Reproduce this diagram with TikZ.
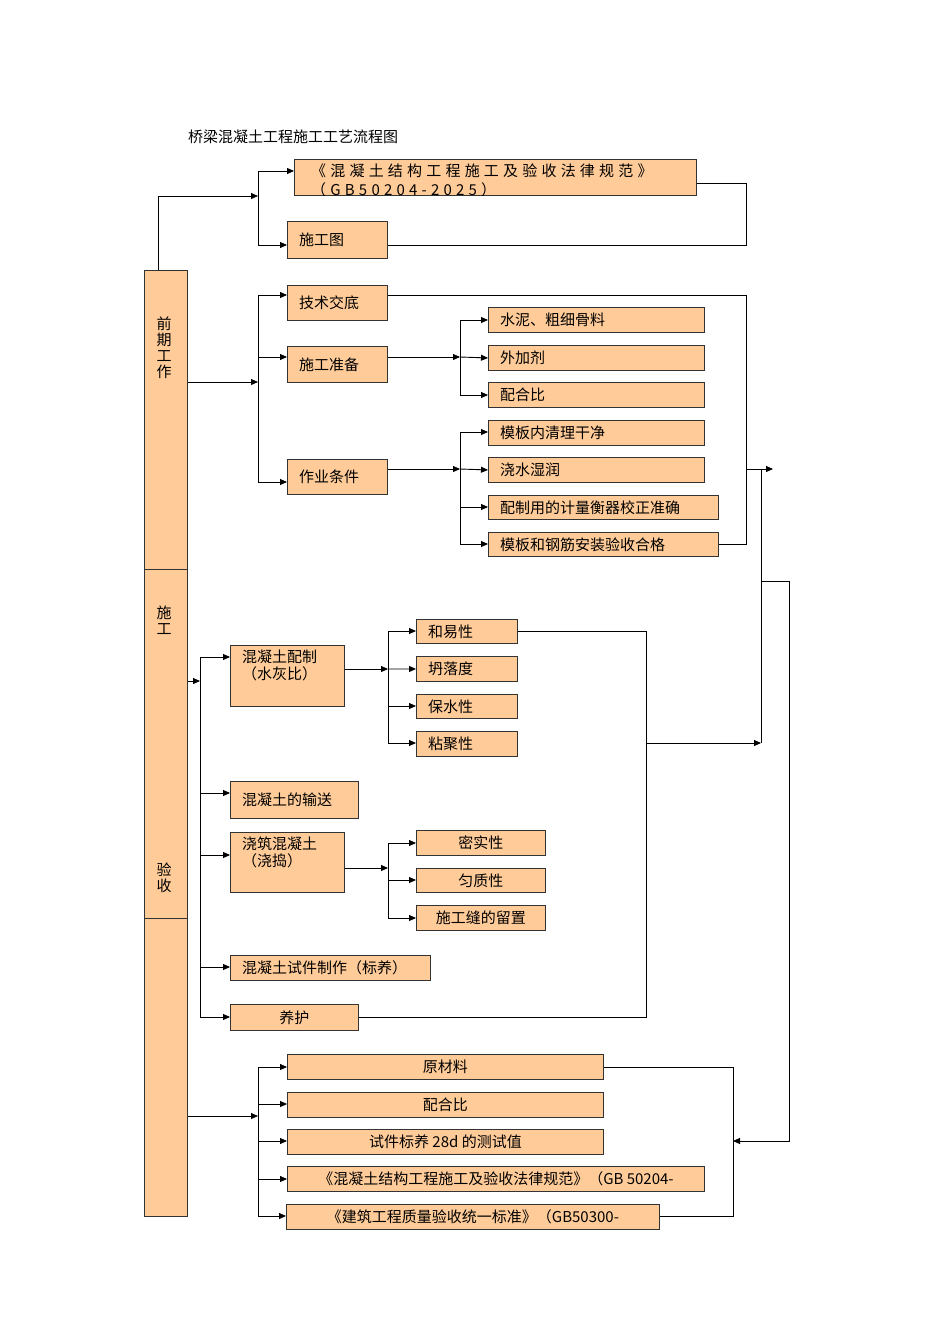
\documentclass[tikz,border=0pt]{standalone}
\usepackage{fontspec}
\usetikzlibrary{arrows.meta, positioning}
\newfontfamily\cjk{Noto Sans CJK SC}
\newfontfamily\cjkwide[LetterSpace=28]{Noto Sans CJK SC}
\definecolor{boxfill}{RGB}{255,204,153}
\tikzset{
  box/.style={draw=black!80, fill=boxfill, line width=0.9pt, inner sep=0pt, anchor=north west},
  txt/.style={font=\cjk\fontsize{15}{17}\selectfont, inner sep=0pt},
  arr/.style={line width=0.9pt, -{Triangle[length=7pt,width=6pt]}},
  ln/.style={line width=0.9pt}
}
% box: name, x1, y1, x2, y2
\newcommand{\flowbox}[5]{\node[box, minimum width={(#4-#2)*1pt}, minimum height={(#5-#3)*1pt}] (#1) at (#2,#3) {};}
\newcommand{\lbox}[6]{\flowbox{#1}{#2}{#3}{#4}{#5}\node[txt, anchor=west] (#1t) at ([xshift=12pt]#1.west) {#6};}
\newcommand{\cbox}[6]{\flowbox{#1}{#2}{#3}{#4}{#5}\node[txt] (#1t) at (#1.center) {#6};}
\begin{document}
\begin{tikzpicture}[x=1pt, y=-1pt]
  \useasboundingbox (0,0) rectangle (950,1344);
  \node[txt, anchor=west] (title) at (188,137) {桥梁混凝土工程施工工艺流程图};

  % left column
  \flowbox{colA}{144}{270}{187}{569}
  \flowbox{colB}{144}{569}{187}{918}
  \flowbox{colC}{144}{918}{187}{1216}
  \node[txt, align=center, font=\cjk\fontsize{15}{16}\selectfont] (qq) at (164,348) {前\\期\\工\\作};
  \node[txt, align=center, font=\cjk\fontsize{15}{16}\selectfont] (sg) at (164,620) {施\\工};
  \node[txt, align=center, font=\cjk\fontsize{15}{16}\selectfont] (ys) at (164,878) {验\\收};

  % preliminary work
  \flowbox{gf}{294}{159}{696}{195}
  \begin{scope}
    \clip (gf.north west) rectangle (gf.south east);
    \node[anchor=north west, align=left, inner sep=0pt, font=\cjkwide\fontsize{15}{19}\selectfont] (gft) at (311,164) {《混凝土结构工程施工及验收法律规范》\\（GB50204-2025）};
  \end{scope}
  \lbox{sgt}{287}{221}{387}{258}{施工图}
  \lbox{jsjd}{287}{285}{387}{320}{技术交底}
  \lbox{sgzb}{287}{346}{387}{382}{施工准备}
  \lbox{zytj}{287}{459}{387}{494}{作业条件}
  \lbox{sn}{488}{307}{704}{332}{水泥、粗细骨料}
  \lbox{wjj}{488}{345}{704}{370}{外加剂}
  \lbox{phb}{488}{382}{704}{407}{配合比}
  \lbox{mbql}{488}{420}{704}{445}{模板内清理干净}
  \lbox{jssr}{488}{457}{704}{482}{浇水湿润}
  \lbox{jlhq}{488}{495}{718}{519}{配制用的计量衡器校正准确}
  \lbox{mbgj}{488}{532}{718}{556}{模板和钢筋安装验收合格}

  \coordinate (b1) at (258,196);
  \coordinate (b2) at (258,382);
  \coordinate (b3) at (460,357);
  \coordinate (b4) at (460,469);
  \draw[arr] (colA.north -| 158,0) |- (b1);
  \draw[arr] (b1) |- (gf.west |- 0,171);
  \draw[arr] (b1) |- (sgt.west |- 0,245);
  \draw[ln] (gf.east |- 0,183) -| (746,245) -- (sgt.east |- 0,245);
  \draw[arr] (colA.east |- b2) -- (b2);
  \draw[arr] (b2) |- (jsjd.west |- 0,295);
  \draw[arr] (b2) |- (sgzb.west |- 0,357);
  \draw[arr] (b2) |- (zytj.west |- 0,482);
  \draw[arr] (sgzb.east |- b3) -- (b3);
  \draw[arr] (b3) |- (sn.west |- 0,320);
  \draw[arr] (b3) -- (wjj.west);
  \draw[arr] (b3) |- (phb.west |- 0,395);
  \draw[arr] (zytj.east |- b4) -- (b4);
  \draw[arr] (b4) |- (mbql.west |- 0,432);
  \draw[arr] (b4) -- (jssr.west);
  \draw[arr] (b4) |- (jlhq.west |- 0,507);
  \draw[arr] (b4) |- (mbgj.west |- 0,544);
  \draw[ln] (jsjd.east |- 0,295) -| (746,544) -- (mbgj.east |- 0,544);
  \coordinate (r1) at (773,469);
  \draw[arr] (746,469) -- (r1);
  \coordinate (r2) at (761,743);
  \draw[ln] (761,469) -- (r2);

  % construction
  \flowbox{hnpz}{230}{645}{344}{706}
  \node[txt, anchor=north west, align=left] (hnpzt) at (242,650) {混凝土配制\\（水灰比）};
  \lbox{ss}{230}{781}{358}{818}{混凝土的输送}
  \flowbox{jz}{230}{832}{344}{892}
  \node[txt, anchor=north west, align=left] (jzt) at (242,837) {浇筑混凝土\\（浇捣）};
  \lbox{sj}{230}{955}{430}{980}{混凝土试件制作（标养）}
  \cbox{yh}{230}{1004}{358}{1030}{养护}
  \lbox{hyx}{416}{619}{517}{643}{和易性}
  \lbox{tld}{416}{656}{517}{681}{坍落度}
  \lbox{bsx}{416}{694}{517}{718}{保水性}
  \lbox{njx}{416}{731}{517}{756}{粘聚性}
  \cbox{msx}{416}{830}{545}{855}{密实性}
  \cbox{jzx}{416}{868}{545}{892}{匀质性}
  \cbox{sgf}{416}{905}{545}{930}{施工缝的留置}

  \coordinate (c1) at (200,681);
  \coordinate (c2) at (388,669);
  \coordinate (c3) at (388,868);
  \draw[arr] (colB.east |- c1) -- (c1);
  \draw[arr] (c1) |- (hnpz.west |- 0,657);
  \draw[arr] (c1) |- (ss.west |- 0,793);
  \draw[arr] (c1) |- (jz.west |- 0,855);
  \draw[arr] (c1) |- (sj.west |- 0,967);
  \draw[arr] (c1) |- (yh.west |- 0,1017);
  \draw[arr] (hnpz.east |- c2) -- (c2);
  \draw[arr] (c2) |- (hyx.west |- 0,631);
  \draw[arr] (c2) -- (tld.west);
  \draw[arr] (c2) |- (bsx.west |- 0,706);
  \draw[arr] (c2) |- (njx.west |- 0,743);
  \draw[arr] (jz.east |- c3) -- (c3);
  \draw[arr] (c3) |- (msx.west |- 0,843);
  \draw[arr] (c3) |- (jzx.west |- 0,880);
  \draw[arr] (c3) |- (sgf.west |- 0,918);
  \draw[ln] (hyx.east |- 0,631) -| (646,1017) -- (yh.east |- 0,1017);
  \draw[arr] (646,743) -- (r2);

  % acceptance
  \cbox{ycl}{287}{1054}{603}{1079}{原材料}
  \cbox{phb2}{287}{1092}{603}{1117}{配合比}
  \cbox{bysz}{287}{1129}{603}{1154}{试件标养 28d 的测试值}
  \cbox{gbA}{287}{1166}{704}{1191}{《混凝土结构工程施工及验收法律规范》（GB 50204-}
  \cbox{gbB}{286}{1204}{659}{1229}{《建筑工程质量验收统一标准》（GB50300-}

  \coordinate (d1) at (258,1116);
  \coordinate (d2) at (733,1141);
  \draw[arr] (colC.east |- d1) -- (d1);
  \draw[arr] (d1) |- (ycl.west |- 0,1067);
  \draw[arr] (d1) |- (phb2.west |- 0,1104);
  \draw[arr] (d1) |- (bysz.west |- 0,1141);
  \draw[arr] (d1) |- (gbA.west |- 0,1179);
  \draw[arr] (d1) |- (gbB.west |- 0,1216);
  \draw[ln] (ycl.east |- 0,1067) -| (733,1216) -- (gbB.east |- 0,1216);
  \draw[arr] (761,581) -| (789,1141) -- (d2);
\end{tikzpicture}
\end{document}
